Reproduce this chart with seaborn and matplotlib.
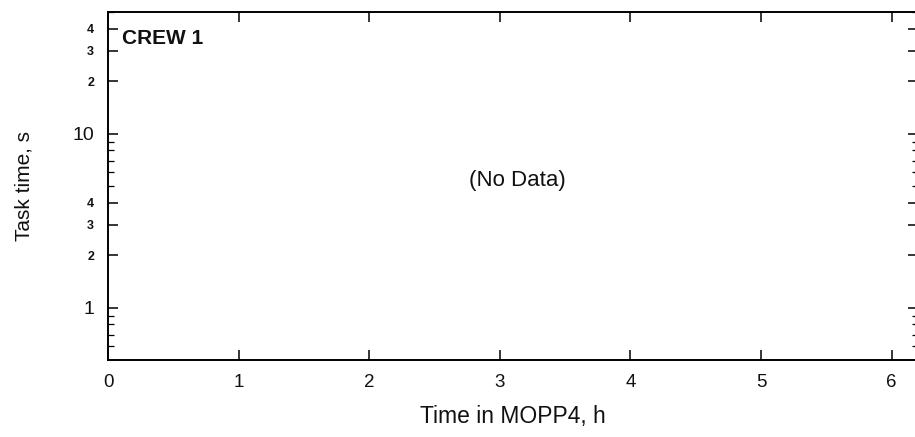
import matplotlib
matplotlib.use("Agg")
import matplotlib.pyplot as plt
import matplotlib.ticker as mticker
import seaborn as sns
import pandas as pd

# Data (the panel reports no data)
hours = []
task_time = []
x_ticks = [0, 1, 2, 3, 4, 5, 6]
y_ticks = [1, 2, 3, 4, 10, 20, 30, 40]
y_tick_labels = ["1", "2", "3", "4", "10", "2", "3", "4"]
panel_label = "CREW 1"
no_data_text = "(No Data)"

sns.set_theme(style="ticks")
plt.rcParams["font.family"] = ["Liberation Sans", "DejaVu Sans"]

fig = plt.figure(figsize=(9.15, 4.37), dpi=100)
ax = fig.add_axes([108 / 915, 1 - 360 / 437, 1 - 108 / 915 + 0.003, (360 - 12) / 437])

df = pd.DataFrame({"h": pd.Series(hours, dtype=float), "t": pd.Series(task_time, dtype=float)})
sns.scatterplot(data=df, x="h", y="t", ax=ax, color="black")

ax.set_yscale("log")
ax.set_xlim(0, 6.2)
ax.set_ylim(0.5, 50)

ax.set_xticks(x_ticks)
ax.set_xticklabels([str(v) for v in x_ticks], fontsize=13.5)
ax.yaxis.set_major_locator(mticker.FixedLocator(y_ticks))
ax.yaxis.set_major_formatter(mticker.FixedFormatter(y_tick_labels))
ax.yaxis.set_minor_locator(mticker.FixedLocator([0.6, 0.7, 0.8, 0.9, 5, 6, 7, 8, 9, 50]))
ax.yaxis.set_minor_formatter(mticker.NullFormatter())
for lbl in ax.get_yticklabels():
    txt = lbl.get_text()
    if txt in ("10", "1"):
        lbl.set_fontsize(14)
    else:
        lbl.set_fontsize(9)
        lbl.set_fontweight("bold")

ax.tick_params(axis="both", which="major", direction="in", length=7, width=1.1,
               color="black", top=True, right=True, labelcolor="#111111")
ax.tick_params(axis="y", which="minor", direction="in", length=4, width=0.9,
               color="black", right=True)
ax.tick_params(axis="x", pad=10)
ax.tick_params(axis="y", pad=10)

for side in ["left", "bottom", "top"]:
    ax.spines[side].set_color("black")
    ax.spines[side].set_linewidth(1.4)
ax.spines["right"].set_visible(False)

ax.set_xlabel("Time in MOPP4, h", fontsize=16.5, labelpad=10, color="#111111")
ax.set_ylabel("Task time, s", fontsize=15, labelpad=28, color="#111111")

ax.text(0.017, 0.925, panel_label, transform=ax.transAxes, fontsize=15,
        fontweight="bold", ha="left", va="center", color="#111111")
ax.text(0.505, 0.517, no_data_text, transform=ax.transAxes, fontsize=16,
        ha="center", va="center", color="#111111")

fig.savefig("out.png", dpi=100)
